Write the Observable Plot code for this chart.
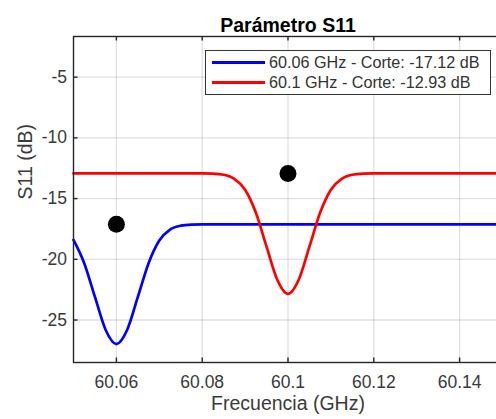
<!DOCTYPE html>
<html>
<head>
<meta charset="utf-8">
<script src="https://cdn.jsdelivr.net/npm/d3@7"></script>
<script src="https://cdn.jsdelivr.net/npm/@observablehq/plot@0.6"></script>
<style>
  html, body { margin: 0; padding: 0; background: #fff; overflow: hidden; }
  #wrap { position: relative; width: 496px; height: 419px; font-family: "Liberation Sans", Arial, sans-serif; }
  #wrap svg { overflow: hidden; }
  #legend { position: absolute; left: 205px; top: 50px; width: 286px; height: 45px; box-sizing: border-box;
            border: 1.4px solid #333; background: #fff; font-size: 16.2px; color: #333; }
  .row { position: absolute; left: 0; height: 20px; width: 100%; }
  .swatch { position: absolute; left: 6px; width: 53px; height: 3px; }
  .lab { position: absolute; left: 63px; white-space: pre; line-height: 20px; top: 0; }
</style>
</head>
<body>
<div id="wrap"><div id="legend"></div></div>
<script>
const titleText = "Parámetro S11";
const xLabel = "Frecuencia (GHz)";
const yLabel = "S11 (dB)";

const xTicks = [60.06, 60.08, 60.1, 60.12, 60.14];
const xTickLabels = ["60.06", "60.08", "60.1", "60.12", "60.14"];
const yTicks = [-25, -20, -15, -10, -5];
const yTickLabels = ["-25", "-20", "-15", "-10", "-5"];

const seriesLabels = ["60.06 GHz - Corte: -17.12 dB", "60.1 GHz - Corte: -12.93 dB"];
const seriesColors = ["#0000ff", "#ff0000"];

// frequency samples (GHz)
const freq = [60.05, 60.0525, 60.055, 60.0575, 60.06, 60.0625, 60.065, 60.0675, 60.07, 60.0725,
              60.075, 60.0775, 60.08, 60.0825, 60.085, 60.0875, 60.09, 60.0925, 60.095, 60.0975,
              60.1, 60.1025, 60.105, 60.1075, 60.11, 60.1125, 60.115, 60.1175, 60.12, 60.1225,
              60.125, 60.1275, 60.13, 60.1325, 60.135, 60.1375, 60.14, 60.1425, 60.145, 60.1475, 60.15];
// S11, 60.06 GHz design
const s11Blue = [-18.40, -20.32, -23.10, -25.82, -26.98, -25.82, -23.10, -20.32, -18.45, -17.55,
                 -17.23, -17.14, -17.12, -17.12, -17.12, -17.12, -17.12, -17.12, -17.12, -17.12,
                 -17.12, -17.12, -17.12, -17.12, -17.12, -17.12, -17.12, -17.12, -17.12, -17.12,
                 -17.12, -17.12, -17.12, -17.12, -17.12, -17.12, -17.12, -17.12, -17.12, -17.12, -17.12];
// S11, 60.1 GHz design
const s11Red = [-12.93, -12.93, -12.93, -12.93, -12.93, -12.93, -12.93, -12.93, -12.93, -12.93,
                -12.93, -12.93, -12.93, -12.95, -13.04, -13.37, -14.27, -16.15, -18.95, -21.68,
                -22.85, -21.68, -18.95, -16.15, -14.27, -13.37, -13.04, -12.95, -12.93, -12.93,
                -12.93, -12.93, -12.93, -12.93, -12.93, -12.93, -12.93, -12.93, -12.93, -12.93, -12.93];
// cut-off markers
const markerFreq = [60.06, 60.1];
const markerS11 = [-17.12, -12.93];

const blueData = freq.map((f, i) => ({f, v: s11Blue[i]}));
const redData = freq.map((f, i) => ({f, v: s11Red[i]}));
const markers = markerFreq.map((f, i) => ({f, v: markerS11[i]}));

const W = 496, H = 419;
const mT = 36, mB = 57, mL = 73, mR = -6;
const frameH = H - mT - mB, frameW = W - mL - mR;
const ink = "#262626";
const txt = "#3a3a3a";

const chart = Plot.plot({
  width: W, height: H,
  marginTop: mT, marginBottom: mB, marginLeft: mL, marginRight: mR,
  style: {fontFamily: "'Liberation Sans', Arial, sans-serif", background: "#fff", overflow: "hidden"},
  x: {domain: [60.05, 60.15], axis: null},
  y: {domain: [-28.5, -1.65], axis: null},
  marks: [
    Plot.gridX(xTicks, {x: d => d, stroke: "#000", strokeOpacity: 0.12, strokeWidth: 1.3}),
    Plot.gridY(yTicks, {y: d => d, stroke: "#000", strokeOpacity: 0.12, strokeWidth: 1.3}),
    Plot.line(blueData, {x: "f", y: "v", stroke: seriesColors[0], strokeWidth: 2.7, curve: "monotone-x"}),
    Plot.line(redData, {x: "f", y: "v", stroke: seriesColors[1], strokeWidth: 2.7, curve: "monotone-x"}),
    Plot.dot(markers, {x: "f", y: "v", r: 8.5, fill: "#000", stroke: null}),
    Plot.frame({stroke: ink, strokeWidth: 1.4}),
    Plot.tickX(xTicks, {x: d => d, insetTop: frameH - 4.5, stroke: ink, strokeWidth: 1.4}),
    Plot.tickX(xTicks, {x: d => d, insetBottom: frameH - 4.5, stroke: ink, strokeWidth: 1.4}),
    Plot.tickY(yTicks, {y: d => d, insetRight: frameW - 4.5, stroke: ink, strokeWidth: 1.4}),
    Plot.axisX(xTicks, {anchor: "bottom", tickSize: 0, tickPadding: 13, fontSize: 17.5, fill: txt,
      tickFormat: d => xTickLabels[xTicks.indexOf(d)], label: null}),
    Plot.axisY(yTicks, {anchor: "left", tickSize: 0, tickPadding: 6.5, fontSize: 17.5, fill: txt,
      tickFormat: d => yTickLabels[yTicks.indexOf(d)], label: null}),
    Plot.text([xLabel], {frameAnchor: "bottom", dy: 47, fontSize: 19.5, fill: txt}),
    Plot.text([yLabel], {frameAnchor: "left", dx: -48, rotate: -90, fontSize: 19.5, fill: txt}),
    Plot.text([titleText], {frameAnchor: "top", dy: -18.5, fontSize: 19.5, fontWeight: "bold", fill: "#000"})
  ]
});
document.getElementById("wrap").prepend(chart);

const legend = document.getElementById("legend");
seriesLabels.forEach((lab, i) => {
  const row = document.createElement("div");
  row.className = "row";
  row.style.top = (1 + i * 20) + "px";
  const sw = document.createElement("div");
  sw.className = "swatch";
  sw.style.background = seriesColors[i];
  sw.style.top = "8.5px";
  const t = document.createElement("div");
  t.className = "lab";
  t.textContent = lab;
  row.appendChild(sw);
  row.appendChild(t);
  legend.appendChild(row);
});
</script>
</body>
</html>
